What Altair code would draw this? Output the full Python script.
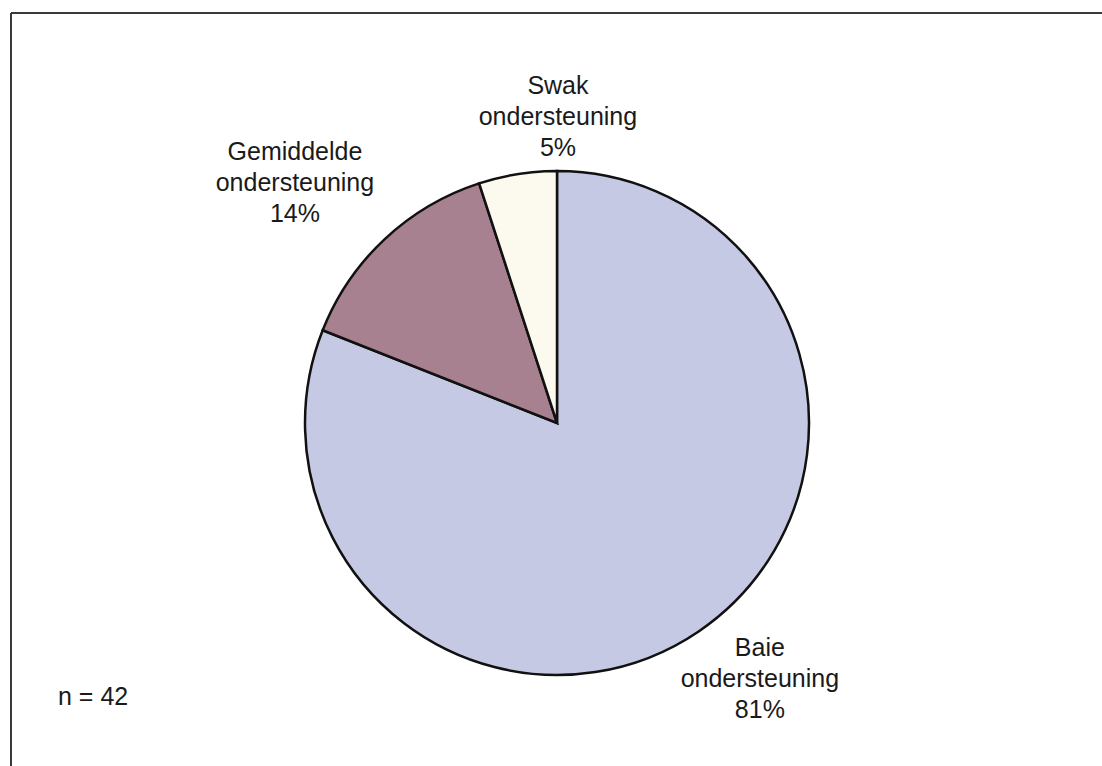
import altair as alt
import pandas as pd
import math

# Support levels and their share of respondents (%)
categories = ["Baie ondersteuning", "Gemiddelde ondersteuning", "Swak ondersteuning"]
first_words = ["Baie", "Gemiddelde", "Swak"]
shares = [81, 14, 5]
colours = ["#c6c9e3", "#a88190", "#fcfaee"]
sample_note = "n = 42"

df = pd.DataFrame({
    "category": categories,
    "word": first_words,
    "share": shares,
    "order": list(range(len(categories))),
})

W, H = 1090, 686
PAD_L, PAD_T = 12, 80
FONT = "Liberation Sans"
RADIUS = 252
theta_scale = alt.Scale(domain=[0, 100], range=[0, 2 * math.pi])

pie = alt.Chart(df).mark_arc(
    outerRadius=RADIUS, stroke="#111111", strokeWidth=2.5
).encode(
    theta=alt.Theta("share:Q", stack=True, scale=theta_scale),
    order=alt.Order("order:Q"),
    color=alt.Color(
        "category:N",
        scale=alt.Scale(domain=categories, range=colours),
        legend=None,
    ),
)

# label offsets (dx, dy) per slice
offsets = {"Baie": (23, -40), "Gemiddelde": (-43, -38), "Swak": (51, -21)}

label_base = alt.Chart(df).transform_window(
    cum="sum(share)", sort=[alt.SortField("order")]
).transform_calculate(
    mid="datum.cum - datum.share / 2",
    label="datum.word + '\\nondersteuning\\n' + datum.share + '%'",
)

label_layers = []
for word, (ox, oy) in offsets.items():
    label_layers.append(
        label_base.transform_filter(alt.datum.word == word).mark_text(
            radius=320, font=FONT, fontSize=25, color="#1a1a1a",
            lineBreak="\n", lineHeight=31, align="center", baseline="middle",
            dx=ox, dy=oy,
        ).encode(
            theta=alt.Theta("mid:Q", scale=theta_scale),
            text="label:N",
        )
    )

note = alt.Chart(pd.DataFrame({"t": [sample_note]})).mark_text(
    font=FONT, fontSize=25, color="#1a1a1a", align="left", baseline="middle"
).encode(text="t:N", x=alt.value(58 - PAD_L), y=alt.value(697 - PAD_T))

# frame lines along the top and left edges
frame_top = alt.Chart(pd.DataFrame({"a": [0]})).mark_rule(
    color="#3a3a3a", strokeWidth=2
).encode(x=alt.value(11 - PAD_L), x2=alt.value(W + 20), y=alt.value(13 - PAD_T))
frame_left = alt.Chart(pd.DataFrame({"a": [0]})).mark_rule(
    color="#3a3a3a", strokeWidth=2
).encode(x=alt.value(11 - PAD_L), y=alt.value(13 - PAD_T), y2=alt.value(H + 20))

chart = alt.layer(frame_top, frame_left, pie, *label_layers, note).properties(
    width=W,
    height=H,
    padding={"left": PAD_L, "top": PAD_T, "right": 0, "bottom": 0},
    autosize=alt.AutoSizeParams(type="none"),
    background="white",
).configure_view(stroke=None)

chart.save("out.html", embed_options={"renderer": "svg", "actions": False})
